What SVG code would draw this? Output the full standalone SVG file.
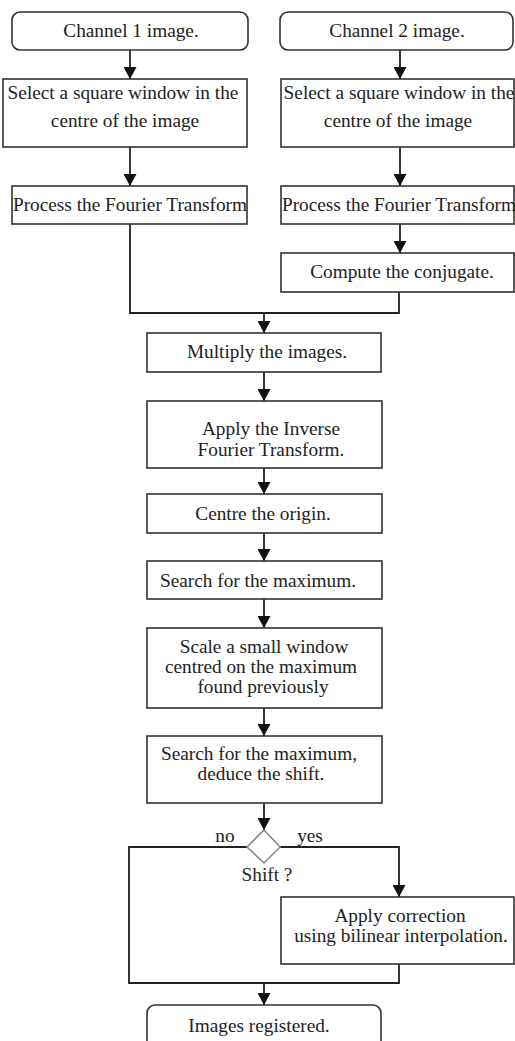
<svg xmlns="http://www.w3.org/2000/svg" width="515" height="1041" viewBox="0 0 515 1041">
<style>
.box{fill:#fff;stroke:#333;stroke-width:1.6}
.t{font-family:"Liberation Serif","Times New Roman",serif;font-size:19.3px;fill:#222;text-anchor:middle}
.c{fill:none;stroke:#222;stroke-width:1.8}
.dia{fill:#fff;stroke:#888;stroke-width:1.6}
</style>
<defs>
<marker id="ah" markerUnits="userSpaceOnUse" markerWidth="13" markerHeight="13" refX="12" refY="6.5" orient="auto">
<path d="M0,0 L12,6.5 L0,13 z" fill="#111"/>
</marker>
</defs>
<rect width="515" height="1041" fill="#fff"/>
<g id="connectors">
<path class="c" d="M130,50 V79" marker-end="url(#ah)"/>
<path class="c" d="M400,50 V79" marker-end="url(#ah)"/>
<path class="c" d="M130,147 V186" marker-end="url(#ah)"/>
<path class="c" d="M400,147 V186" marker-end="url(#ah)"/>
<path class="c" d="M400,224 V253" marker-end="url(#ah)"/>
<path class="c" d="M130,224 V313 H399 V292"/>
<path class="c" d="M264,313 V333" marker-end="url(#ah)"/>
<path class="c" d="M264,372 V401" marker-end="url(#ah)"/>
<path class="c" d="M264,468 V494" marker-end="url(#ah)"/>
<path class="c" d="M264,533 V561" marker-end="url(#ah)"/>
<path class="c" d="M264,599 V628" marker-end="url(#ah)"/>
<path class="c" d="M264,708 V736" marker-end="url(#ah)"/>
<path class="c" d="M264,803 V830" marker-end="url(#ah)"/>
<path class="c" d="M247,847 H129 V983 H399 V964"/>
<path class="c" d="M280,847 H399 V897" marker-end="url(#ah)"/>
<path class="c" d="M264,983 V1005" marker-end="url(#ah)"/>
</g>
<g id="ch1"><rect class="box" x="12" y="12" width="236" height="38" rx="8"/><text class="t" x="131" y="37">Channel 1 image.</text></g>
<g id="ch2"><rect class="box" x="280" y="12" width="233" height="38" rx="8"/><text class="t" x="397" y="37">Channel 2 image.</text></g>
<g id="sel1"><rect class="box" x="3" y="79" width="244" height="68"/><text class="t" x="123" y="99">Select a square window in the</text><text class="t" x="125" y="127">centre of the image</text></g>
<g id="sel2"><rect class="box" x="281" y="79" width="233" height="68"/><text class="t" x="399" y="99">Select a square window in the</text><text class="t" x="398" y="127">centre of the image</text></g>
<g id="proc1"><rect class="box" x="12" y="186" width="235" height="38"/><text class="t" x="130" y="211">Process the Fourier Transform</text></g>
<g id="proc2"><rect class="box" x="281" y="186" width="233" height="38"/><text class="t" x="399" y="211">Process the Fourier Transform</text></g>
<g id="conj"><rect class="box" x="281" y="253" width="233" height="39"/><text class="t" x="402" y="278">Compute the conjugate.</text></g>
<g id="mult"><rect class="box" x="147" y="333" width="234" height="39"/><text class="t" x="267" y="358">Multiply the images.</text></g>
<g id="inv"><rect class="box" x="147" y="401" width="235" height="67"/><text class="t" x="271" y="435">Apply the Inverse</text><text class="t" x="271" y="456">Fourier Transform.</text></g>
<g id="centre"><rect class="box" x="147" y="494" width="235" height="39"/><text class="t" x="263" y="520">Centre the origin.</text></g>
<g id="search1"><rect class="box" x="147" y="561" width="235" height="38"/><text class="t" x="258" y="587">Search for the maximum.</text></g>
<g id="scale"><rect class="box" x="147" y="628" width="235" height="80"/><text class="t" x="264" y="653">Scale a small window</text><text class="t" x="261" y="673">centred on the maximum</text><text class="t" x="263" y="693">found previously</text></g>
<g id="search2"><rect class="box" x="147" y="736" width="235" height="67"/><text class="t" x="259" y="760">Search for the maximum,</text><text class="t" x="261" y="780">deduce the shift.</text></g>
<g id="shift"><path class="dia" d="M264,830 L280,847 L264,863 L247,847 Z"/><text class="t" x="267" y="881">Shift ?</text><text class="t" x="225" y="842">no</text><text class="t" x="310" y="842">yes</text></g>
<g id="corr"><rect class="box" x="281" y="897" width="233" height="67"/><text class="t" x="400" y="922">Apply correction</text><text class="t" x="401" y="942">using bilinear interpolation.</text></g>
<g id="reg"><rect class="box" x="147" y="1005" width="234" height="45" rx="8"/><text class="t" x="259" y="1032">Images registered.</text></g>
</svg>
